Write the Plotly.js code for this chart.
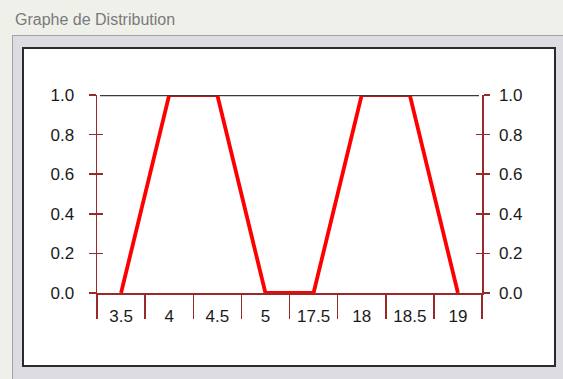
<!DOCTYPE html>
<html>
<head>
<meta charset="utf-8">
<script src="https://cdn.plot.ly/plotly-3.0.1.min.js"></script>
<style>
  html, body { margin: 0; padding: 0; background: #F0F0EA; }
  #chart { width: 563px; height: 379px; }
</style>
</head>
<body>
<div id="chart"></div>
<script>
// ---- data ----
const categories = ['3.5', '4', '4.5', '5', '17.5', '18', '18.5', '19'];
const membership = [0, 1, 1, 0, 0, 1, 1, 0];
const yTickValues = [0, 0.2, 0.4, 0.6, 0.8, 1.0];
const yTickLabels = ['0.0', '0.2', '0.4', '0.6', '0.8', '1.0'];
const chartTitle = 'Graphe de Distribution';

// ---- layout helpers (pixel -> paper) ----
const W = 563, H = 379;
const L = 97, R = 482, T = 95, B = 293;
const px = x => (x - L) / (R - L);
const py = y => (B - y) / (B - T);

const axisColor = '#9A2A2A';
const labelFont = { family: '"Liberation Sans", Arial, sans-serif', size: 17, color: '#1a1a1a' };

const traces = [
  { x: categories, y: membership, type: 'scatter', mode: 'lines',
    line: { color: '#FF0000', width: 3.8 }, cliponaxis: false,
    xaxis: 'x', yaxis: 'y', hoverinfo: 'skip', showlegend: false },
  { x: categories, y: membership, type: 'scatter', mode: 'lines',
    line: { width: 0 }, opacity: 0, xaxis: 'x', yaxis: 'y2', hoverinfo: 'skip', showlegend: false },
  { x: categories, y: membership, type: 'scatter', mode: 'lines',
    line: { width: 0 }, opacity: 0, xaxis: 'x', yaxis: 'y3', hoverinfo: 'skip', showlegend: false },
  { x: categories, y: membership, type: 'scatter', mode: 'lines',
    line: { width: 0 }, opacity: 0, xaxis: 'x', yaxis: 'y4', hoverinfo: 'skip', showlegend: false }
];

const yBase = {
  range: [0, 1], tickvals: yTickValues, ticktext: yTickLabels,
  showgrid: false, zeroline: false, fixedrange: true,
  tickcolor: axisColor, tickwidth: 1.5, tickfont: labelFont
};

const layout = {
  width: W, height: H,
  margin: { l: L, r: W - R, t: T, b: H - B, pad: 0 },
  paper_bgcolor: '#F0F0EA',
  plot_bgcolor: 'rgba(0,0,0,0)',
  showlegend: false,
  xaxis: {
    type: 'category', categoryorder: 'array', categoryarray: categories,
    range: [-0.5, categories.length - 0.5],
    tickson: 'boundaries', ticks: 'outside', ticklen: 24, tickwidth: 1.5,
    tickcolor: axisColor, showline: true, linecolor: axisColor, linewidth: 1.5,
    showgrid: false, zeroline: false, fixedrange: true,
    tickfont: labelFont, ticklabelstandoff: 7, layer: 'below traces'
  },
  yaxis: Object.assign({}, yBase, {
    side: 'left', ticks: 'outside', ticklen: 7, showline: true,
    linecolor: axisColor, linewidth: 1.5, ticklabelstandoff: 11, layer: 'below traces'
  }),
  yaxis2: Object.assign({}, yBase, {
    overlaying: 'y', side: 'right', ticks: 'outside', ticklen: 6, showline: true,
    linecolor: axisColor, linewidth: 1.5, ticklabelstandoff: 6, layer: 'below traces'
  }),
  yaxis3: Object.assign({}, yBase, {
    overlaying: 'y', side: 'left', ticks: 'inside', ticklen: 6,
    showticklabels: false, showline: false, layer: 'below traces'
  }),
  yaxis4: Object.assign({}, yBase, {
    overlaying: 'y', side: 'right', ticks: 'inside', ticklen: 6,
    showticklabels: false, showline: false, layer: 'below traces'
  }),
  shapes: [
    // group-box background
    { type: 'rect', xref: 'paper', yref: 'paper', layer: 'below',
      x0: px(12), x1: px(W + 2), y0: py(35), y1: py(H + 2),
      fillcolor: '#DCDCE2', line: { width: 0 } },
    // group-box etched border (top and left)
    { type: 'line', xref: 'paper', yref: 'paper', layer: 'below',
      x0: px(12), x1: px(W + 2), y0: py(35.5), y1: py(35.5),
      line: { color: '#A3A3A8', width: 1 } },
    { type: 'line', xref: 'paper', yref: 'paper', layer: 'below',
      x0: px(12.5), x1: px(12.5), y0: py(35), y1: py(H + 2),
      line: { color: '#A3A3A8', width: 1 } },
    // white panel with dark border
    { type: 'rect', xref: 'paper', yref: 'paper', layer: 'below',
      x0: px(23), x1: px(555), y0: py(48), y1: py(366),
      fillcolor: '#FFFFFF', line: { color: '#2A2A2A', width: 2 } },
    // top line at 1.0
    { type: 'line', xref: 'paper', yref: 'y', layer: 'above',
      x0: px(100), x1: px(479), y0: 1, y1: 1,
      line: { color: '#3C3C3C', width: 2.5 } }
  ],
  annotations: [
    { text: chartTitle, xref: 'paper', yref: 'paper', x: px(13), y: py(20),
      xanchor: 'left', yanchor: 'middle', showarrow: false,
      font: { family: '"Liberation Sans", Arial, sans-serif', size: 16, color: '#7A7A7A' } }
  ]
};

Plotly.newPlot('chart', traces, layout, { staticPlot: true, displayModeBar: false });
</script>
</body>
</html>
